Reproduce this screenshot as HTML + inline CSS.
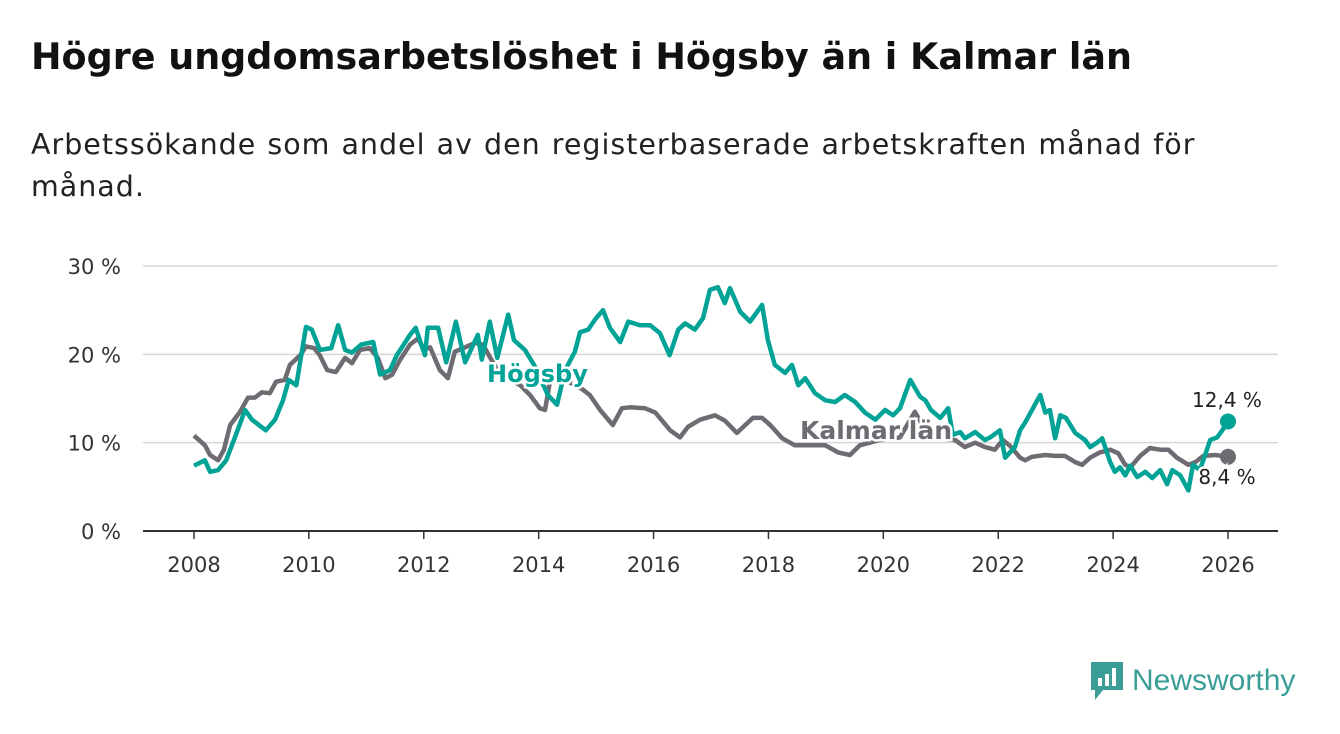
<!DOCTYPE html>
<html><head><meta charset="utf-8"><style>
body{margin:0;background:#fff;font-family:"DejaVu Sans",sans-serif;}
#wrap{position:relative;width:1340px;height:734px;overflow:hidden;}
h1{position:absolute;left:31px;top:35px;margin:0;font-size:36.5px;font-weight:bold;color:#111;white-space:nowrap;}
.sub{position:absolute;left:31px;top:124px;margin:0;font-size:28.5px;letter-spacing:1px;word-spacing:1px;line-height:42px;color:#222;width:1280px;white-space:nowrap;}
svg text{font-family:"DejaVu Sans",sans-serif;}
</style></head><body><div id="wrap">
<h1>Högre ungdomsarbetslöshet i Högsby än i Kalmar län</h1>
<p class="sub">Arbetssökande som andel av den registerbaserade arbetskraften månad för<br>månad.</p>
<svg id="chart" width="1340" height="734" style="position:absolute;left:0;top:0"></svg>
<div style="position:absolute;left:1089px;top:660px;display:flex;align-items:center;">
<svg width="36" height="42"><path d="M2 2h32v28H14l-8 10v-10H2z" fill="#3a9e96"/><rect x="9" y="18" width="4" height="8" fill="#fff"/><rect x="16" y="14" width="4" height="12" fill="#fff"/><rect x="23" y="8" width="4" height="18" fill="#fff"/></svg>
<span style="font-family:'Liberation Sans',sans-serif;font-size:30px;color:#3a9e96;margin-left:7px;">Newsworthy</span></div>
</div>
<script>
const hogsbyYears=[2008.00,2008.19,2008.28,2008.42,2008.56,2008.73,2008.89,2009.01,2009.25,2009.41,2009.55,2009.65,2009.78,2009.95,2010.05,2010.19,2010.39,2010.51,2010.63,2010.75,2010.91,2011.12,2011.24,2011.41,2011.53,2011.76,2011.86,2012.02,2012.07,2012.25,2012.39,2012.56,2012.72,2012.94,2013.01,2013.15,2013.28,2013.47,2013.57,2013.76,2013.92,2014.16,2014.32,2014.46,2014.63,2014.72,2014.86,2015.00,2015.12,2015.24,2015.42,2015.56,2015.76,2015.94,2016.11,2016.28,2016.43,2016.55,2016.72,2016.86,2016.98,2017.12,2017.24,2017.33,2017.51,2017.68,2017.89,2017.99,2018.11,2018.29,2018.41,2018.52,2018.64,2018.81,2018.99,2019.16,2019.33,2019.51,2019.68,2019.86,2020.03,2020.17,2020.29,2020.47,2020.64,2020.73,2020.83,2020.99,2021.13,2021.21,2021.34,2021.42,2021.60,2021.77,2021.86,2022.03,2022.12,2022.29,2022.38,2022.47,2022.73,2022.82,2022.90,2022.99,2023.08,2023.18,2023.34,2023.51,2023.60,2023.72,2023.81,2023.95,2024.03,2024.12,2024.21,2024.30,2024.42,2024.56,2024.68,2024.82,2024.94,2025.03,2025.17,2025.31,2025.39,2025.51,2025.69,2025.81,2025.90,2026.00];
const hogsbyValues=[7.4,8.0,6.7,6.9,8.0,10.9,13.7,12.6,11.4,12.6,14.8,17.1,16.5,23.1,22.8,20.5,20.7,23.3,20.5,20.2,21.1,21.4,17.7,18.2,19.9,22.2,23.0,19.9,23.0,23.0,19.1,23.7,19.1,22.2,19.4,23.7,19.6,24.5,21.6,20.5,18.8,15.4,14.3,18.2,20.3,22.5,22.8,24.1,25.0,23.0,21.4,23.7,23.3,23.3,22.4,19.9,22.8,23.5,22.8,24.1,27.3,27.6,25.8,27.5,24.8,23.7,25.6,21.6,18.8,17.9,18.8,16.5,17.3,15.6,14.8,14.6,15.4,14.6,13.4,12.6,13.7,13.1,13.9,17.1,15.2,14.8,13.7,12.8,13.9,10.9,11.2,10.5,11.2,10.3,10.6,11.4,8.3,9.5,11.4,12.3,15.4,13.4,13.7,10.5,13.1,12.8,11.1,10.3,9.5,10.0,10.5,7.8,6.7,7.2,6.3,7.4,6.1,6.7,6.0,6.9,5.3,6.9,6.3,4.6,7.5,6.9,10.3,10.6,11.4,12.4];
const kalmarYears=[2008.00,2008.19,2008.28,2008.42,2008.52,2008.63,2008.80,2008.94,2009.06,2009.18,2009.32,2009.43,2009.58,2009.67,2009.85,2009.95,2010.09,2010.19,2010.32,2010.47,2010.63,2010.75,2010.89,2011.06,2011.20,2011.33,2011.45,2011.59,2011.76,2011.90,2012.00,2012.11,2012.28,2012.42,2012.54,2012.72,2012.89,2013.03,2013.15,2013.33,2013.68,2013.85,2014.02,2014.11,2014.20,2014.48,2014.65,2014.77,2014.89,2015.07,2015.29,2015.45,2015.59,2015.85,2016.03,2016.29,2016.46,2016.60,2016.81,2017.07,2017.24,2017.45,2017.73,2017.89,2018.03,2018.24,2018.46,2018.72,2018.99,2019.21,2019.42,2019.59,2019.94,2020.29,2020.55,2020.81,2021.25,2021.42,2021.60,2021.77,2021.94,2022.08,2022.21,2022.38,2022.47,2022.59,2022.82,2022.99,2023.16,2023.34,2023.46,2023.60,2023.77,2023.95,2024.09,2024.21,2024.30,2024.47,2024.64,2024.82,2024.96,2025.11,2025.31,2025.43,2025.57,2025.78,2026.00];
const kalmarValues=[10.8,9.7,8.6,8.0,9.2,12.0,13.5,15.1,15.1,15.7,15.6,16.9,17.1,18.8,19.9,20.9,20.7,19.9,18.2,18.0,19.6,19.0,20.5,20.7,19.6,17.3,17.7,19.4,21.1,21.8,20.5,20.8,18.2,17.3,20.3,20.8,21.3,21.1,19.7,17.7,16.5,15.4,13.9,13.7,17.1,17.0,16.5,16.0,15.4,13.7,12.0,13.9,14.0,13.9,13.4,11.4,10.6,11.8,12.6,13.1,12.5,11.1,12.8,12.8,12.0,10.5,9.7,9.7,9.7,8.9,8.6,9.7,10.3,10.6,13.5,10.5,10.3,9.5,10.0,9.5,9.2,10.3,9.6,8.3,8.0,8.4,8.6,8.5,8.5,7.8,7.5,8.3,8.9,9.2,8.8,7.5,7.2,8.5,9.4,9.2,9.2,8.3,7.5,7.8,8.5,8.6,8.4];
const yTicks=[0,10,20,30];
const yTickLabels=["0 %","10 %","20 %","30 %"];
const xTicks=[2008,2010,2012,2014,2016,2018,2020,2022,2024,2026];

const svg=document.getElementById('chart');
const NS='http://www.w3.org/2000/svg';
const xS=y=>194+(y-2008)*(1228-194)/18;
const yS=v=>531-v*(531-266)/30;
function mk(t,a){const e=document.createElementNS(NS,t);for(const k in a)e.setAttribute(k,a[k]);svg.appendChild(e);return e;}
yTicks.forEach((t,i)=>{
  const g=mk('line',{x1:143,x2:1278,y1:yS(t),y2:yS(t),stroke:t===0?'#333':'#d6d6d6','stroke-width':t===0?2:1.5});
  
  
  const l=mk('text',{x:121,y:yS(t)+8,'text-anchor':'end','font-size':21,fill:'#333'});
  l.textContent=yTickLabels[i];
  
  
});
xTicks.forEach(t=>{
  const k=mk('line',{x1:xS(t),x2:xS(t),y1:531,y2:539,stroke:'#333','stroke-width':1.5});
  
  
  const l=mk('text',{x:xS(t),y:572,'text-anchor':'middle','font-size':21,fill:'#333'});
  l.textContent=t;
  
  
});
function line(xs,vs,col,name){
  const d=xs.map((x,i)=>(i?'L':'M')+xS(x).toFixed(1)+','+yS(vs[i]).toFixed(1)).join('');
  const p=mk('path',{d:d,fill:'none',stroke:col,'stroke-width':4.5,'stroke-linejoin':'round'});
  
  
  const c=mk('circle',{cx:xS(xs[xs.length-1]),cy:yS(vs[vs.length-1]),r:8,fill:col});
  
  
}
line(kalmarYears,kalmarValues,'#6e6c72','kalmar-line');
line(hogsbyYears,hogsbyValues,'#00a396','hogsby-line');
function lab(x,y,txt,col,name,size,w,anchor){
  const t=mk('text',{x:x,y:y,'font-size':size,'font-weight':w,fill:col,stroke:'#fff','stroke-width':5,'paint-order':'stroke','text-anchor':anchor||'start'});
  t.textContent=txt;
  
  
}
lab(487,382,'Högsby','#00a396','hogsby-label',24,'bold');
lab(800,439,'Kalmar län','#6e6c72','kalmar-label',25,'bold');
lab(1227,407,'12,4 %','#222','hogsby-end-value',20,'normal','middle');
lab(1227,484,'8,4 %','#222','kalmar-end-value',20,'normal','middle');
</script></body></html>
